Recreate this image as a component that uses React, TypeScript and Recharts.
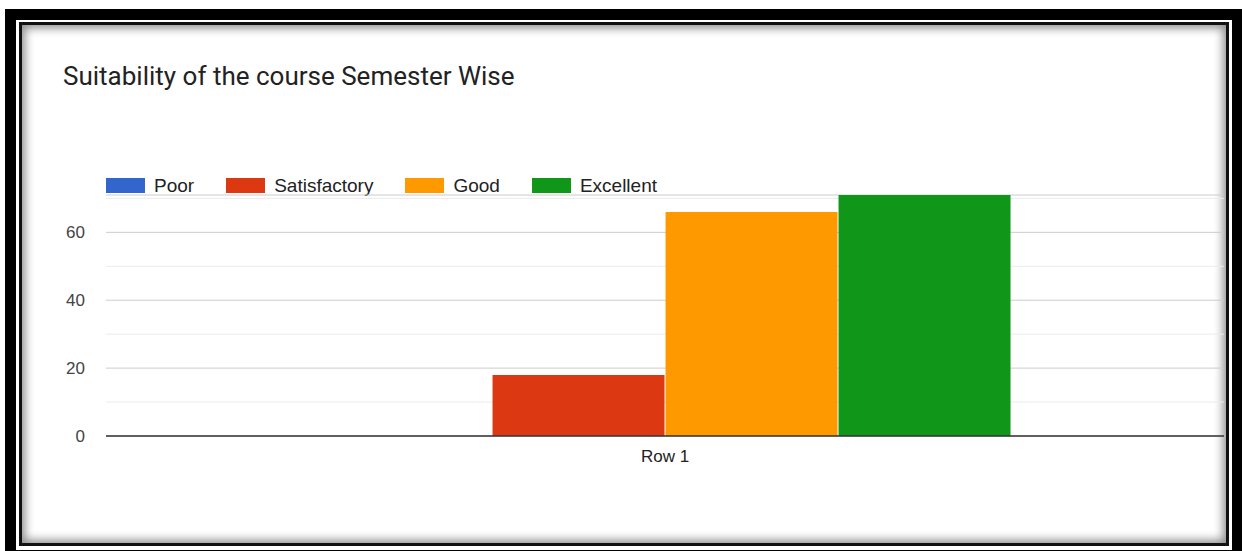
import React from 'react';
import { BarChart, Bar, XAxis, YAxis, CartesianGrid } from 'recharts';

// values
const categories = ['Row 1'];
const seriesNames = ['Poor', 'Satisfactory', 'Good', 'Excellent'];
const poor = [0];
const satisfactory = [18];
const good = [66];
const excellent = [71];
const yTicks = [0, 20, 40, 60];
const minorTicks = [10, 30, 50, 70];

const colors = ['#3366cc', '#dc3912', '#ff9900', '#109618'];

const data = categories.map((name, i) => ({
  name,
  Poor: poor[i],
  Satisfactory: satisfactory[i],
  Good: good[i],
  Excellent: excellent[i],
}));

const W = 1242;
const H = 551;

export default function App() {
  return (
    <div style={{ position: 'fixed', left: 0, top: 0, width: W, height: H, background: '#fff', overflow: 'hidden' }}>
      {/* outer frame */}
      <div
        style={{
          position: 'absolute', left: 5, top: 9, width: 1238, height: 552,
          border: '11px solid #000', boxSizing: 'border-box',
        }}
      />
      {/* inner frame with inset shadow */}
      <div
        style={{
          position: 'absolute', left: 19, top: 22, width: 1210, height: 524,
          border: '3px solid #111', boxSizing: 'border-box',
          boxShadow: 'inset 0 0 10px 3px rgba(0,0,0,0.45)',
        }}
      />

      <div
        style={{
          position: 'absolute', left: 63, top: 63, fontFamily: 'Roboto', fontSize: 26,
          lineHeight: '26px', color: '#222', whiteSpace: 'nowrap',
        }}
      >
        Suitability of the course Semester Wise
      </div>

      {/* legend */}
      <div
        style={{
          position: 'absolute', left: 106, top: 176, display: 'flex', alignItems: 'center',
          fontFamily: 'Liberation Sans, Arial, sans-serif', fontSize: 19, color: '#222',
        }}
      >
        {seriesNames.map((s, i) => (
          <div key={s} style={{ display: 'flex', alignItems: 'center', marginRight: 32 }}>
            <div style={{ width: 39, height: 15, background: colors[i], marginRight: 9 }} />
            <span style={{ lineHeight: '19px' }}>{s}</span>
          </div>
        ))}
      </div>

      <div style={{ position: 'absolute', left: 0, top: 0 }}>
        <BarChart
          width={W}
          height={H}
          data={data}
          margin={{ top: 195, right: 18, left: 0, bottom: 85 }}
          barCategoryGap="19.1%"
          barGap={1}
        >
          <CartesianGrid vertical={false} stroke="#ebebeb" horizontalValues={minorTicks} />
          <CartesianGrid vertical={false} stroke="#cccccc" />
          <XAxis
            dataKey="name"
            height={30}
            tickLine={false}
            tickSize={0}
            tickMargin={14}
            axisLine={{ stroke: '#333', strokeWidth: 1.5 }}
            tick={{ fill: '#222', fontSize: 17, fontFamily: 'Liberation Sans, Arial, sans-serif' }}
          />
          <YAxis
            width={106}
            domain={[0, 71]}
            ticks={yTicks}
            axisLine={false}
            tickLine={false}
            tickSize={0}
            tickMargin={21}
            tick={{ fill: '#444', fontSize: 17, fontFamily: 'Liberation Sans, Arial, sans-serif' }}
          />
          {seriesNames.map((s, i) => (
            <Bar key={s} dataKey={s} fill={colors[i]} isAnimationActive={false} />
          ))}
        </BarChart>
      </div>
    </div>
  );
}
